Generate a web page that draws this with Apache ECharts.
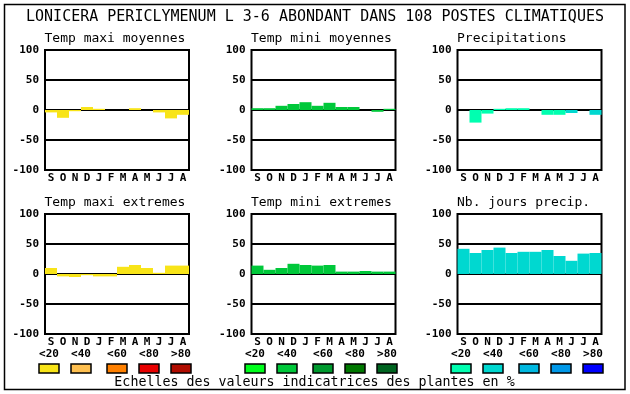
<!DOCTYPE html>
<html>
<head>
<meta charset="utf-8">
<script src="https://cdn.jsdelivr.net/npm/echarts@6/dist/echarts.min.js"></script>
<style>
html,body{margin:0;padding:0;background:#fff;}
#chart{width:630px;height:394px;}
</style>
</head>
<body>
<div id="chart"></div>
<script>
// ---- data ----
const months = ['S','O','N','D','J','F','M','A','M','J','J','A'];
const tmaxMoy = [-4,-13,-2,5,2,0,0,3,0,-4,-14,-8];
const tminMoy = [3,3,7,10,13,7,12,5,5,0,-3,2];
const precip  = [0,-21,-6,2,3,3,0,-8,-8,-5,0,-8];
const tmaxExt = [10,-4,-5,-2,-4,-4,12,15,10,2,14,14];
const tminExt = [14,7,10,17,15,14,15,4,4,5,4,4];
const nbJours = [42,35,40,44,35,37,37,40,30,22,34,35];
// colour class per bar (index into each palette)
const tmaxMoyCls = [0,0,0,0,0,0,0,0,0,0,0,0];
const tminMoyCls = [1,1,1,1,1,1,1,1,1,1,1,1];
const precipCls  = [0,0,0,0,0,0,0,0,0,1,0,1];
const tmaxExtCls = [0,0,0,0,0,0,0,0,0,0,0,0];
const tminExtCls = [1,1,1,1,1,1,1,1,1,1,1,1];
const nbJoursCls = [1,1,1,1,1,1,1,1,1,1,1,1];
const yTicks = [-100,-50,0,50,100];
const classLabels = ['<20','<40','<60','<80','>80'];
const warmPalette  = ['#f8e418','#ffc050','#ff8000','#e80000','#b00c00'];
const greenPalette = ['#00ff1c','#00c83a','#009a2e','#007800','#006420'];
const bluePalette  = ['#00ffb0','#00d8d0','#00b8e0','#0098e8','#0000ff'];
const mainTitle = 'LONICERA PERICLYMENUM L 3-6 ABONDANT DANS 108 POSTES CLIMATIQUES';
const panelTitles = ['Temp maxi moyennes','Temp mini moyennes','Precipitations','Temp maxi extremes','Temp mini extremes','Nb. jours precip.'];
const footer = 'Echelles des valeurs indicatrices des plantes en %';

// ---- layout ----
const MONO = '"DejaVu Sans Mono", "Liberation Mono", monospace';
const colLeft = [45, 251.5, 457.5];
const rowTop = [50, 214];
const PW = 144, PH = 120;
const panels = [
  {vals: tmaxMoy, cls: tmaxMoyCls, pal: warmPalette},
  {vals: tminMoy, cls: tminMoyCls, pal: greenPalette},
  {vals: precip,  cls: precipCls,  pal: bluePalette},
  {vals: tmaxExt, cls: tmaxExtCls, pal: warmPalette},
  {vals: tminExt, cls: tminExtCls, pal: greenPalette},
  {vals: nbJours, cls: nbJoursCls, pal: bluePalette}
];

const grids = [], xAxes = [], yAxes = [], series = [], titles = [];
titles.push({text: mainTitle, left: 'center', top: 10, padding: 0,
  textStyle: {fontFamily: MONO, fontSize: 15, fontWeight: 'normal', color: '#000'}});
panels.forEach((p, i) => {
  const c = i % 3, r = Math.floor(i / 3);
  grids.push({left: colLeft[c], top: rowTop[r], width: PW, height: PH, show: true,
    borderColor: '#000', borderWidth: 2, backgroundColor: '#fff', outerBoundsMode: 'none'});
  xAxes.push({type: 'category', gridIndex: i, data: months,
    axisLine: {show: false}, axisTick: {show: false},
    axisLabel: {interval: 0, margin: 3, fontFamily: MONO, fontSize: 11, fontWeight: 'bold', color: '#000'}});
  yAxes.push({type: 'value', gridIndex: i, min: yTicks[0], max: yTicks[yTicks.length-1], interval: 50,
    axisLine: {show: false}, axisTick: {show: false},
    splitLine: {show: true, lineStyle: {color: '#000', width: 2}},
    axisLabel: {margin: 6, fontFamily: MONO, fontSize: 11, fontWeight: 'bold', color: '#000'}});
  series.push({type: 'bar', xAxisIndex: i, yAxisIndex: i, barCategoryGap: '0%', barGap: '0%',
    silent: true, animation: false,
    data: p.vals.map((v, k) => ({value: v, itemStyle: {color: p.pal[p.cls[k]]}}))});
  titles.push({text: panelTitles[i], left: colLeft[c] - 0.5, top: rowTop[r] - 18, padding: 0,
    textStyle: {fontFamily: MONO, fontSize: 13, fontWeight: 'normal', color: '#000'}});
});

// legend (graphic)
const graphics = [];
graphics.push({type: 'rect', shape: {x: 4.5, y: 4.5, width: 620.5, height: 385},
  style: {fill: 'none', stroke: '#000', lineWidth: 1.5}, z: 100});
const swatchX = [[39,71,107,139,171],[245,277,313,345,377],[451,483,519,551,583]];
const pals = [warmPalette, greenPalette, bluePalette];
swatchX.forEach((xs, g) => {
  xs.forEach((x, k) => {
    graphics.push({type: 'rect', shape: {x: x, y: 364, width: 20, height: 9},
      style: {fill: pals[g][k], stroke: '#000', lineWidth: 1.5}});
    graphics.push({type: 'text', x: x + 10, y: 354,
      style: {text: classLabels[k], font: 'bold 11px ' + MONO, fill: '#000', align: 'center', verticalAlign: 'middle'}});
  });
});
graphics.push({type: 'text', x: 314.5, y: 382.5,
  style: {text: footer, font: '13.3px ' + MONO, fill: '#000', align: 'center', verticalAlign: 'middle'}});

const chart = echarts.init(document.getElementById('chart'), null, {renderer: 'canvas'});
chart.setOption({
  animation: false,
  backgroundColor: '#fff',
  title: titles,
  grid: grids,
  xAxis: xAxes,
  yAxis: yAxes,
  series: series,
  graphic: graphics
});
</script>
</body>
</html>
